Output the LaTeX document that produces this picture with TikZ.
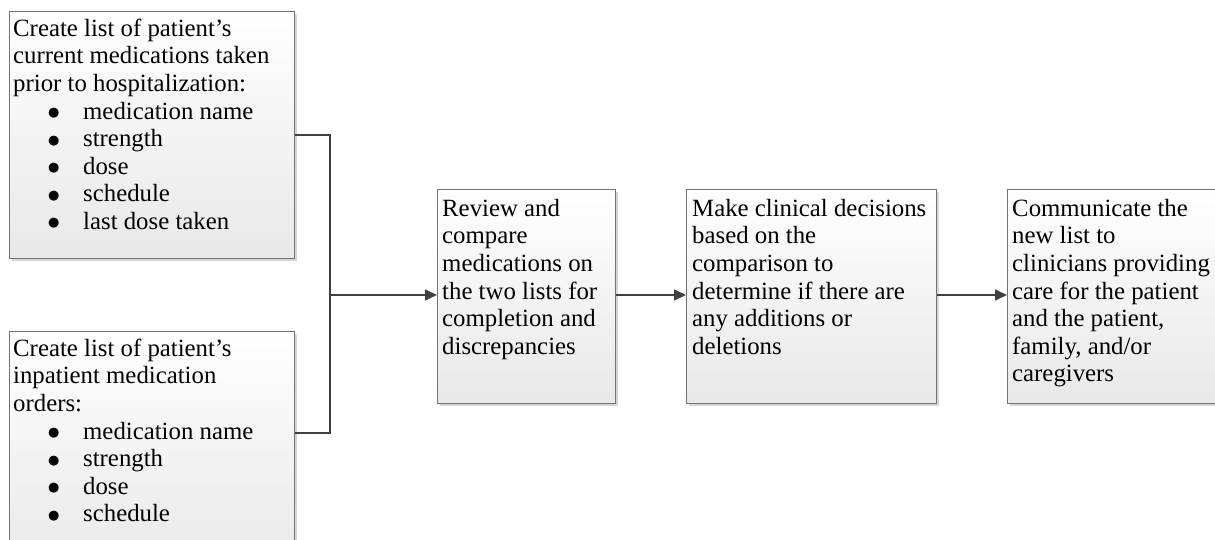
\documentclass[tikz,border=0pt]{standalone}
\usepackage{fontspec}
\setmainfont{Liberation Serif}
\newfontfamily\bulfont{DejaVu Sans}
\usetikzlibrary{arrows.meta,shadows}
\begin{document}
\begin{tikzpicture}[x=1pt,y=-1pt,
  box/.style={draw=black!55, line width=1.1pt, top color=white, bottom color=black!9,
    drop shadow={shadow xshift=2.5pt,shadow yshift=-2.5pt,fill=black!16,opacity=1},
    anchor=north west, inner sep=0pt},
  txt/.style={anchor=north west, inner sep=0pt, align=left,
    font=\fontsize{24.8}{27.6}\selectfont},
  conn/.style={draw=black!75, line width=1.6pt},
  arr/.style={conn, -{Triangle[length=12pt,width=11pt]}}]
\newcommand{\bul}[1]{\hspace*{35pt}\makebox[35pt][l]{\raisebox{2.5pt}{\bulfont\fontsize{13}{13}\selectfont ●}}#1}
\useasboundingbox (0,0) rectangle (1215,540);
\clip (0,0) rectangle (1215,540);
% boxes
\node[box, minimum width=285pt, minimum height=247pt] (b1) at (9,11) {};
\node[box, minimum width=285pt, minimum height=240pt] (b2) at (9,331) {};
\node[box, minimum width=178pt, minimum height=214pt] (b3) at (437,189) {};
\node[box, minimum width=250pt, minimum height=214pt] (b4) at (686,189) {};
\node[box, minimum width=230pt, minimum height=214pt] (b5) at (1007,189) {};
% texts
\node[txt] (t1) at (13,16.7) {\strut Create list of patient’s\\current medications taken\\prior to hospitalization:\\
  \bul{medication name}\\\bul{strength}\\\bul{dose}\\\bul{schedule}\\\bul{last dose taken}};
\node[txt] (t2) at (13,336.7) {\strut Create list of patient’s\\inpatient medication\\orders:\\
  \bul{medication name}\\\bul{strength}\\\bul{dose}\\\bul{schedule}};
\node[txt] (t3) at (442,196.7) {\strut Review and\\compare\\medications on\\the two lists for\\completion and\\discrepancies};
\node[txt] (t4) at (692,196.7) {\strut Make clinical decisions\\based on the\\comparison to\\determine if there are\\any additions or\\deletions};
\node[txt] (t5) at (1012,196.7) {\strut Communicate the\\new list to\\clinicians providing\\care for the patient\\and the patient,\\family, and/or\\caregivers};
% connectors
\coordinate (j) at (330,295);
\coordinate (b2c) at ([yshift=-102pt]b2.north east);
\draw[conn] (b1.east) -| (j) |- (b2c);
\draw[arr] (j) -- (b3.west |- j);
\draw[arr] (b3.east |- j) -- (b4.west |- j);
\draw[arr] (b4.east |- j) -- (b5.west |- j);
\end{tikzpicture}
\end{document}
